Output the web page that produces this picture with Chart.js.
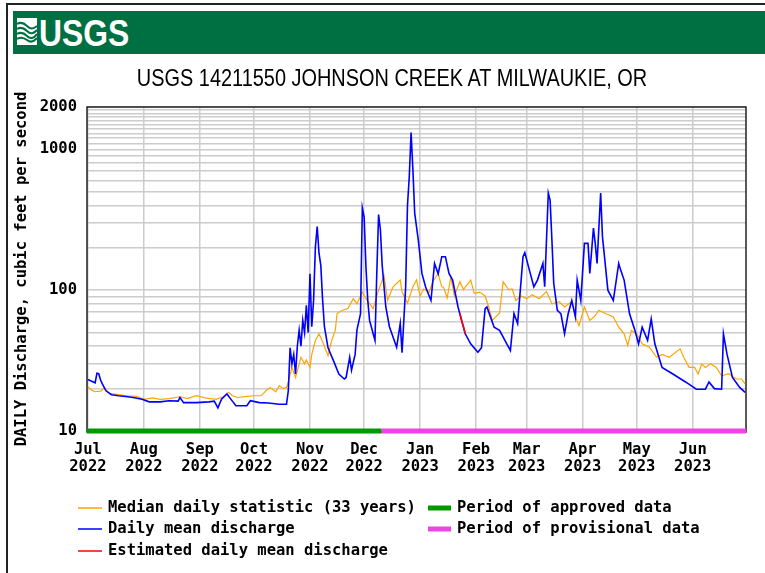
<!DOCTYPE html>
<html>
<head>
<meta charset="utf-8">
<script src="https://cdn.jsdelivr.net/npm/chart.js@4.4.0/dist/chart.umd.min.js"></script>
<style>
  html, body { margin: 0; padding: 0; background: #fff; width: 765px; height: 573px; overflow: hidden; }
  canvas { position: absolute; left: 0; top: 0; }
  #frame { position: absolute; left: 6px; top: 3px; width: 800px; height: 600px; border: 2px solid #222; box-sizing: border-box; pointer-events: none; }
  #banner { position: absolute; left: 13px; top: 11px; width: 760px; height: 43px; background: #006f41; }
  #logo { position: absolute; left: 17px; top: 18px; }
  #usgs { position: absolute; left: 39px; top: 13px; height: 38px; line-height: 38px; font: bold 37px "Liberation Sans", sans-serif; color: #fff; transform: scaleX(0.86); transform-origin: left center; }
  #title { position: absolute; left: 42px; top: 64px; width: 700px; height: 24px; line-height: 24px; text-align: center; font: 24px "Liberation Sans", sans-serif; color: #000; transform: scaleX(0.83); transform-origin: center center; white-space: nowrap; }
</style>
</head>
<body>
<canvas id="chart" width="765" height="573"></canvas>
<div id="frame"></div>
<div id="banner"></div>
<svg id="logo" width="20" height="27" viewBox="0 0 20 27">
  <rect width="20" height="27" fill="#fff"/>
  <path d="M0 6 Q5 3 10 8 T20 8" stroke="#006f41" stroke-width="2" fill="none"/>
  <path d="M0 11 Q5 8 10 13 T20 12" stroke="#006f41" stroke-width="2" fill="none"/>
  <path d="M0 16 Q5 13 10 18 T20 16" stroke="#006f41" stroke-width="2" fill="none"/>
  <path d="M0 21 Q5 18 10 22 T20 20" stroke="#006f41" stroke-width="2" fill="none"/>
</svg>
<div id="usgs">USGS</div>
<div id="title">USGS 14211550 JOHNSON CREEK AT MILWAUKIE, OR</div>
<script>
// day index: 0 = Jul 1 2022
const monthDays = [0, 31, 62, 92, 123, 153, 184, 215, 243, 274, 304, 335];
const monthLabels = [["Jul", "2022"], ["Aug", "2022"], ["Sep", "2022"], ["Oct", "2022"], ["Nov", "2022"], ["Dec", "2022"],
  ["Jan", "2023"], ["Feb", "2023"], ["Mar", "2023"], ["Apr", "2023"], ["May", "2023"], ["Jun", "2023"]];

const gridValues = [10, 20, 30, 40, 50, 60, 70, 80, 90, 100, 200, 300, 400, 500, 600, 700, 800, 900,
  1000, 1100, 1200, 1300, 1400, 1500, 1600, 1700, 1800, 1900, 2000];
const yTickLabels = [10, 100, 1000, 2000];

// daily mean discharge
const flowDays = [0, 3, 4, 5, 6, 7, 8, 10, 13, 17, 22, 25, 30, 34, 40, 45, 50, 51, 53, 60,
  67, 70, 72, 74, 77, 80, 82, 88, 90, 95, 100, 106, 110, 111, 112, 113, 114, 115, 116, 117,
  118, 119, 120, 121, 122, 123, 124, 125, 126, 127, 128, 129, 130, 131, 133, 136, 139, 142, 143, 145,
  146, 148, 149, 151, 152, 153, 154, 155, 156, 158, 159, 160, 161, 162, 163, 165, 167, 171, 173, 174,
  176, 177, 178, 179, 180, 181, 182, 183, 185, 187, 190, 192, 194, 196, 198, 200, 202, 205, 207, 209,
  212, 216, 218, 220, 221, 225, 228, 232, 234, 236, 238, 241, 242, 245, 247, 249, 252, 253, 255, 256,
  257, 258, 260, 262, 264, 266, 268, 270, 271, 273, 275, 277, 278, 280, 281, 282, 284, 285, 288, 291,
  294, 295, 297, 300, 303, 305, 307, 310, 312, 314, 318, 324, 331, 337, 342, 344, 347, 351, 352, 354,
  357, 361, 364];
const flowValues = [23.2, 22.3, 22.0, 25.7, 25.5, 23, 21.6, 19.3, 18.1, 17.8, 17.5, 17.3, 16.8, 16.1, 16.1, 16.4, 16.3, 17.3, 15.9, 15.9,
  16.1, 16.3, 14.6, 16.8, 18.3, 16.3, 15.1, 15.1, 16.4, 15.9, 15.8, 15.5, 15.5, 19.3, 39, 30, 35, 25.4, 40, 52,
  40, 61, 50, 78, 50, 131, 55, 85, 203, 283, 183, 150, 85, 55, 39, 31.6, 25.4, 23.4, 24, 33.4,
  27, 35, 52, 68, 384, 330, 146, 85, 61, 49, 44, 132, 344, 270, 150, 76, 55, 39.4, 58, 36,
  106, 400, 640, 1315, 720, 353, 283, 227, 131.6, 105.7, 84.5, 155, 131, 173, 173, 131.6, 118, 76, 61, 49,
  41.6, 36.2, 39, 74, 76, 54.6, 51.8, 41.6, 37.3, 68.3, 58, 173, 185, 131.6, 105.7, 118, 155, 105.7, 490, 436,
  227, 112, 72, 68, 49, 68, 84.5, 65, 118, 84.5, 215, 215, 131.6, 276, 215, 155, 490, 240, 100, 84.5,
  155, 140, 118, 68, 51.8, 41.6, 54.6, 44, 62.6, 41.6, 28.3, 25.4, 22.3, 19.8, 19.8, 22.3, 20, 19.8, 49, 35,
  24, 20.4, 18.8];

// median daily statistic (33 years)
const medianDays = [0, 2, 4, 7, 9, 12, 16, 22, 27, 31, 36, 40, 45, 51, 55, 60, 65, 71, 75, 78,
  80, 83, 88, 92, 96, 99, 101, 104, 106, 108, 110, 111, 113, 115, 118, 120, 121, 123, 124, 126,
  128, 130, 133, 135, 137, 138, 141, 144, 147, 149, 152, 154, 158, 161, 164, 166, 169, 173, 174, 177,
  180, 182, 184, 186, 189, 191, 194, 196, 197, 199, 201, 203, 206, 208, 212, 214, 217, 220, 222, 224,
  228, 230, 233, 235, 237, 240, 243, 246, 250, 254, 257, 261, 264, 268, 270, 272, 275, 278, 281, 283,
  287, 291, 294, 297, 299, 301, 304, 307, 311, 315, 318, 322, 328, 330, 333, 336, 338, 340, 342, 345,
  348, 351, 355, 359, 362, 364];
const medianValues = [20.6, 19.5, 19.0, 19.2, 20.2, 18.5, 18.2, 17.8, 17.6, 16.8, 17.2, 16.8, 17.0, 17.5, 17.0, 17.8, 17.2, 16.8, 17.5, 18.8,
  17.8, 17.3, 17.6, 17.8, 17.8, 19.5, 20.4, 19, 21, 20, 20.4, 22.3, 28.3, 24, 33.4, 30, 32, 28.3, 35, 43.9,
  49, 43, 34.3, 43.9, 51.8, 68.3, 72, 74, 87, 80, 97, 87, 74, 100, 127.5, 84.5, 105.7, 118, 97, 81,
  105.7, 118, 91, 102, 97, 115, 131.6, 105.7, 105, 88, 124, 91, 115, 101, 118, 95, 97, 91, 76, 61,
  69, 115, 101, 102, 84.5, 91, 87, 93, 87, 98, 80, 83, 76, 83, 64.6, 56, 76, 61, 66, 72,
  68, 64.6, 54.6, 49, 40.5, 51.8, 49, 41.6, 39.4, 33.4, 35, 33.4, 38.3, 33.4, 28.3, 28.3, 25.4, 30, 28.3, 30,
  28.3, 24.7, 25.5, 23.4, 23.4, 21.6];

// estimated daily mean discharge
const estDays = [206, 207, 208, 209];
const estValues = [68.5, 61, 55, 49];

// data approval periods (start day, end day)
const approvedPeriod = [-0.5, 162.5];
const provisionalPeriod = [162.5, 364.5];

const legendLabels = ["Median daily statistic (33 years)", "Daily mean discharge", "Estimated daily mean discharge",
  "Period of approved data", "Period of provisional data"];
const legendColors = ["#ffa500", "#0000ff", "#ff0000", "#009a00", "#ee44e6"];

const monoFont = '"DejaVu Sans Mono", "Liberation Mono", monospace';

function pairs(xs, ys) {
  return xs.map((x, i) => ({ x: x, y: ys[i] }));
}

const plotBorder = {
  id: "plotBorder",
  beforeDatasetsDraw(chart) {
    const a = chart.chartArea;
    const ctx = chart.ctx;
    ctx.save();
    ctx.strokeStyle = "#222";
    ctx.lineWidth = 1.5;
    ctx.strokeRect(a.left, a.top, a.right - a.left, a.bottom - a.top + 1);
    ctx.restore();
  },
};

// legend in two columns, drawn under the axis
const columnLegend = {
  id: "columnLegend",
  afterDraw(chart) {
    const ctx = chart.ctx;
    ctx.save();
    ctx.font = "bold 15.5px " + monoFont;
    ctx.textBaseline = "middle";
    ctx.fillStyle = "#000";
    const rows = [508, 529, 551];
    for (let i = 0; i < 3; i++) {
      ctx.strokeStyle = legendColors[i];
      ctx.lineWidth = 1.5;
      ctx.beginPath();
      ctx.moveTo(78, rows[i]);
      ctx.lineTo(102, rows[i]);
      ctx.stroke();
      ctx.fillText(legendLabels[i], 108, rows[i]);
    }
    for (let i = 3; i < 5; i++) {
      const r = rows[i - 3];
      ctx.fillStyle = legendColors[i];
      ctx.fillRect(428, r - 2.5, 23, 5);
      ctx.fillStyle = "#000";
      ctx.fillText(legendLabels[i], 457, r);
    }
    ctx.restore();
  },
};

Chart.defaults.font.family = monoFont;

var ctx = document.getElementById("chart").getContext("2d");
var myChart = new Chart(ctx, {
  type: "line",
  data: {
    datasets: [
      {
        label: "Daily mean discharge",
        data: pairs(flowDays, flowValues),
        borderColor: legendColors[1],
        borderWidth: 1.6,
        pointRadius: 0,
        tension: 0,
        order: 3,
      },
      {
        label: "Median daily statistic (33 years)",
        data: pairs(medianDays, medianValues),
        borderColor: legendColors[0],
        borderWidth: 1.2,
        pointRadius: 0,
        tension: 0,
        order: 4,
      },
      {
        label: "Estimated daily mean discharge",
        data: pairs(estDays, estValues),
        borderColor: legendColors[2],
        borderWidth: 1.6,
        pointRadius: 0,
        tension: 0,
        order: 2,
      },
      {
        label: "Period of approved data",
        data: pairs(approvedPeriod, [10, 10]),
        borderColor: legendColors[3],
        borderWidth: 5,
        pointRadius: 0,
        clip: false,
        order: 1,
      },
      {
        label: "Period of provisional data",
        data: pairs(provisionalPeriod, [10, 10]),
        borderColor: legendColors[4],
        borderWidth: 5,
        pointRadius: 0,
        clip: false,
        order: 1,
      },
    ],
  },
  options: {
    responsive: false,
    animation: false,
    devicePixelRatio: 1,
    layout: {
      padding: { left: 20, right: 19, top: 107, bottom: 92 },
    },
    plugins: {
      legend: { display: false },
      tooltip: { enabled: false },
      title: { display: false },
    },
    scales: {
      x: {
        type: "linear",
        min: -0.5,
        max: 364.5,
        afterBuildTicks: (scale) => {
          scale.ticks = monthDays.map((d) => ({ value: d }));
        },
        afterFit: (scale) => {
          scale.height = 50;
        },
        ticks: {
          autoSkip: false,
          maxRotation: 0,
          padding: 10,
          color: "#000",
          font: { size: 15.5, weight: "bold", lineHeight: 1.12 },
          callback: function (value, index) {
            return monthLabels[index];
          },
        },
        grid: { color: "#cccccc", lineWidth: 1.5, drawTicks: false },
        border: { display: false },
      },
      y: {
        type: "logarithmic",
        min: 10,
        max: 2000,
        afterBuildTicks: (scale) => {
          scale.ticks = gridValues.map((v) => ({ value: v }));
        },
        afterFit: (scale) => {
          scale.width = 67;
        },
        ticks: {
          autoSkip: false,
          padding: 10,
          color: "#000",
          font: { size: 15.5, weight: "bold" },
          callback: function (value) {
            return yTickLabels.includes(value) ? String(value) : "";
          },
        },
        grid: { color: "#cccccc", lineWidth: 1.5, drawTicks: false },
        border: { display: false },
        title: {
          display: true,
          text: "DAILY Discharge, cubic feet per second",
          color: "#000",
          font: { size: 15.5, weight: "bold" },
          padding: { top: -7, bottom: 0 },
        },
      },
    },
  },
  plugins: [plotBorder, columnLegend],
});
</script>
</body>
</html>
